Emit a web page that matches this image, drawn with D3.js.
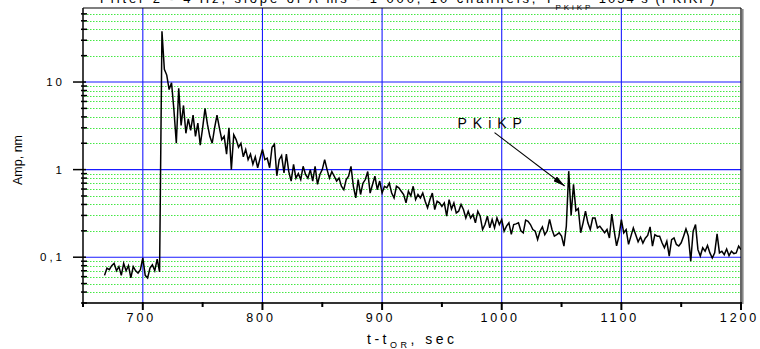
<!DOCTYPE html>
<html><head><meta charset="utf-8">
<script src="https://cdn.jsdelivr.net/npm/d3@7/dist/d3.min.js"></script>
<style>
body{margin:0;background:#fff}
svg{display:block}
text{font-family:"Liberation Sans",Arial,sans-serif;fill:#000}
</style>
</head><body>
<svg id="c" width="760" height="349"></svg>
<script>
// ---- data ----
const tStart = 668, tStep = 2;   // sampling of the envelope, s
const amp = [
 0.062,0.075,0.072,0.080,0.085,0.070,0.078,0.062,0.085,0.070,0.080,0.058,0.078,0.070,0.066,0.072,0.098,0.062,0.058,0.075,0.082,0.070,0.095,0.068,
 38,14,12,8.2,9.8,4.8,2.0,8.5,3.2,5.4,2.6,3.8,2.8,4.2,2.4,3.4,1.9,3.0,5.0,3.3,2.4,2.0,3.0,4.2,3.0,2.2,2.4,1.5,3.0,1.0,2.5,2.2,1.8,2.0,1.4,1.7,1.3,1.5,1.15,1.4,1.05,1.35,1.7,1.3,1.35,1.05,1.8,1.95,0.85,1.3,1.45,0.92,1.5,0.95,0.74,1.15,0.8,0.9,
 0.77,1.09,0.88,0.80,1.0,0.74,1.09,0.68,0.88,1.0,1.3,1.0,0.80,0.95,0.84,0.74,0.80,0.645,0.59,0.77,0.84,1.09,0.645,0.475,0.77,0.52,0.70,0.77,0.95,0.54,0.675,0.84,0.59,0.74,0.54,0.645,0.62,0.70,0.54,0.475,0.645,0.62,0.566,0.52,0.417,0.566,0.50,0.645,0.455,0.52,0.475,0.54,0.435,0.366,0.455,0.54,0.35,0.435,0.417,0.38,0.417,0.294,0.455,0.355,0.417,0.32,0.335,0.40,0.35,0.28,0.335,0.28,0.307,0.247,0.335,0.294,0.207,0.236,0.294,0.216,0.269,0.216,0.281,0.236,0.269,
 0.198,0.226,0.247,0.182,0.236,0.24,0.247,0.20,0.19,0.265,0.257,0.236,0.207,0.198,0.159,0.198,0.222,0.181,0.20,0.27,0.207,0.174,0.181,0.19,0.174,0.134,0.226,0.96,0.30,0.68,0.34,0.36,0.19,0.247,0.335,0.247,0.207,0.28,0.28,0.216,0.226,0.207,0.19,0.207,0.166,0.31,0.20,0.135,0.174,0.269,0.19,0.207,0.14,0.174,0.216,0.181,0.15,0.17,0.145,0.165,0.177,0.222,0.134,0.181,0.174,0.174,0.146,0.128,0.152,0.103,0.159,0.166,0.14,0.134,0.146,0.174,0.21,0.174,0.09,0.198,0.236,0.122,0.103,0.128,0.117,0.136,0.112,0.098,0.112,0.185,0.112,0.117,0.107,0.124,0.104,0.117,0.11,0.112,0.134,0.122
];
const xDomain = [650, 1200];
const yDomain = [0.03, 70];
const xTicks = [700, 800, 900, 1000, 1100, 1200];
const xTickLabels = ["700", "800", "900", "1000", "1100", "1200"];
const xMinorTicks = [650, 750, 850, 950, 1050, 1150];
const yMajor = [0.1, 1, 10];
const yTickLabels = ["0,1", "1", "10"];
const yMinor = [0.04,0.05,0.06,0.07,0.08,0.09,0.2,0.3,0.4,0.5,0.6,0.7,0.8,0.9,2,3,4,5,6,7,8,9,20,30,40,50,60];
const annotLabel = "PKiKP";
const annotText = [963, 3.0];      // [t, amp] of label baseline start
const annotFrom = [994, 2.64];
const annotTo = [1052.6, 0.65];

// ---- layout ----
const L = 83, R = 741, T = 8, B = 303;
const svg = d3.select("#c");
svg.append("rect").attr("width",760).attr("height",349).attr("fill","#fff");
const x = d3.scaleLinear().domain(xDomain).range([L, R]);
const y = d3.scaleLog().domain(yDomain).range([B, T]);

// minor horizontal grid (green dotted)
svg.append("g").selectAll("line").data(yMinor).join("line")
  .attr("x1", L+1).attr("x2", R)
  .attr("y1", d => Math.round(y(d))+0.5).attr("y2", d => Math.round(y(d))+0.5)
  .attr("stroke", "#44e844").attr("stroke-width", 1).attr("stroke-dasharray", "1.5,1.5");

// major grid (blue)
svg.append("g").selectAll("line").data(yMajor).join("line")
  .attr("x1", L).attr("x2", R)
  .attr("y1", d => y(d)).attr("y2", d => y(d))
  .attr("stroke", "#1a1aff").attr("stroke-width", 1.1);
svg.append("g").selectAll("line").data(xTicks.filter(d => d < xDomain[1])).join("line")
  .attr("y1", T).attr("y2", B)
  .attr("x1", d => x(d)).attr("x2", d => x(d))
  .attr("stroke", "#1a1aff").attr("stroke-width", 1.1);

// data line
svg.append("defs").append("clipPath").attr("id","clip")
  .append("rect").attr("x",L).attr("y",T).attr("width",R-L).attr("height",B-T);
const line = d3.line().x((d,i) => x(tStart + i*tStep)).y(d => y(d));
svg.append("path").datum(amp).attr("d", line).attr("clip-path","url(#clip)")
  .attr("fill","none").attr("stroke","#000").attr("stroke-width",1.5).attr("stroke-linejoin","miter");

// frame
svg.append("line").attr("x1",L).attr("x2",R).attr("y1",T).attr("y2",T).attr("stroke","#000").attr("stroke-width",1.2);
svg.append("line").attr("x1",R).attr("x2",R).attr("y1",T).attr("y2",B).attr("stroke","#000").attr("stroke-width",1.2);
svg.append("line").attr("x1",R+1.8).attr("x2",R+1.8).attr("y1",T+1).attr("y2",B+1).attr("stroke","#888").attr("stroke-width",1.6);
svg.append("line").attr("x1",L).attr("x2",L).attr("y1",T).attr("y2",B+1).attr("stroke","#111").attr("stroke-width",1.6);
svg.append("line").attr("x1",L).attr("x2",R+1).attr("y1",B).attr("y2",B).attr("stroke","#333").attr("stroke-width",1.8);

// y ticks
svg.append("g").selectAll("line").data(yMajor).join("line")
  .attr("x1", L-10).attr("x2", L+3).attr("y1", d => y(d)).attr("y2", d => y(d))
  .attr("stroke","#000").attr("stroke-width",1.5);
svg.append("g").selectAll("line").data(yMinor.concat([yDomain[0]])).join("line")
  .attr("x1", L-2).attr("x2", L+4).attr("y1", d => y(d)).attr("y2", d => y(d))
  .attr("stroke","#000").attr("stroke-width",1.5);
svg.append("g").selectAll("text").data(yMajor).join("text")
  .attr("x", 65).attr("y", d => y(d)+4).attr("text-anchor","end")
  .attr("font-size", 11.5).attr("letter-spacing", 3)
  .text((d,i) => yTickLabels[i]);

// x ticks
svg.append("g").selectAll("line").data(xTicks).join("line")
  .attr("x1", d => x(d)).attr("x2", d => x(d)).attr("y1", B-1).attr("y2", B+7)
  .attr("stroke","#000").attr("stroke-width",2);
svg.append("g").selectAll("line").data(xMinorTicks).join("line")
  .attr("x1", d => x(d)).attr("x2", d => x(d)).attr("y1", B-1).attr("y2", B+4)
  .attr("stroke","#000").attr("stroke-width",2);
svg.append("g").selectAll("text").data(xTicks).join("text")
  .attr("x", d => x(d)-1.5).attr("y", 321.5).attr("text-anchor","middle")
  .attr("font-size", 12.5).attr("letter-spacing", 2.9)
  .text((d,i) => xTickLabels[i]);

// axis titles
svg.append("text").attr("transform","translate(22,160) rotate(-90)")
  .attr("text-anchor","middle").attr("font-size",12.5).text("Amp, nm");
const xl = svg.append("text").attr("x",367).attr("y",344).attr("font-size",14).attr("letter-spacing",3.5);
xl.append("tspan").text("t-t");
xl.append("tspan").attr("font-size",9).attr("dy",4).text("OR");
xl.append("tspan").attr("dy",-4).text(", sec");

// title (cut off at top as in the reference)
const tt = svg.append("text").attr("x",100).attr("y",3).attr("font-size",13).attr("letter-spacing",2.9);
tt.append("tspan").text("Filter 2 - 4 Hz, slope of A ms - 1 000, 10 channels, T");
tt.append("tspan").attr("font-size",8).attr("dy",7).text("PKiKP");
tt.append("tspan").attr("dy",-7).attr("letter-spacing",2).text(" 1054 s (PKIKP)");

// annotation
svg.select("defs").append("marker").attr("id","arr").attr("viewBox","0 0 12 6")
  .attr("refX",12).attr("refY",3).attr("markerWidth",12).attr("markerHeight",6)
  .attr("markerUnits","userSpaceOnUse").attr("orient","auto")
  .append("path").attr("d","M0,0 L12,3 L0,6 Z").attr("fill","#000");
svg.append("line")
  .attr("x1", x(annotFrom[0])).attr("y1", y(annotFrom[1]))
  .attr("x2", x(annotTo[0])).attr("y2", y(annotTo[1]))
  .attr("stroke","#000").attr("stroke-width",1.1).attr("marker-end","url(#arr)");
svg.append("text").attr("x", x(annotText[0])).attr("y", y(annotText[1]))
  .attr("font-size",14).attr("letter-spacing",6).text(annotLabel);
</script>
</body></html>
